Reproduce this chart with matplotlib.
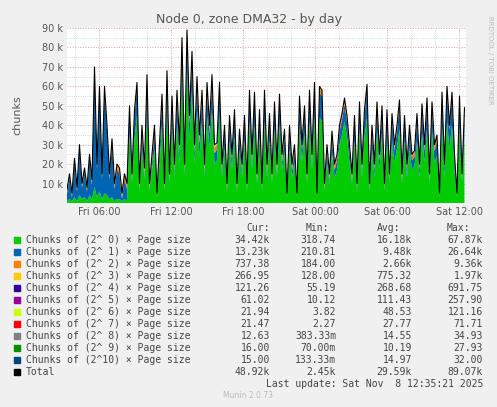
import numpy as np
import matplotlib.pyplot as plt
import matplotlib.dates as mdates
from datetime import datetime, timedelta

# total chunks (k), one point every 12.5 minutes from Fri 03:20
total = [7, 15, 5, 23, 8, 30, 10, 18, 8, 25, 12, 70, 20, 60, 15, 60, 40, 15, 33, 10,
         20, 18, 5, 15, 10, 50, 15, 48, 62, 10, 40, 18, 66, 10, 25, 40, 5, 30, 56, 10,
         68, 15, 55, 20, 58, 30, 85, 20, 89, 45, 78, 30, 65, 35, 58, 20, 62, 40, 66, 30,
         31, 62, 20, 40, 10, 45, 25, 48, 10, 38, 20, 45, 10, 58, 25, 57, 15, 48, 10, 58,
         20, 46, 15, 52, 20, 56, 25, 38, 5, 40, 20, 30, 5, 55, 30, 50, 15, 58, 25, 62,
         5, 60, 58, 10, 30, 15, 37, 20, 25, 40, 46, 54, 45, 30, 15, 45, 10, 52, 20, 48,
         61, 10, 40, 20, 52, 25, 50, 10, 48, 15, 46, 30, 40, 53, 15, 45, 20, 40, 25, 27,
         46, 20, 51, 30, 54, 15, 52, 30, 35, 5, 57, 20, 60, 40, 57, 25, 5, 55, 15, 49]
# 2^0 chunks (k)
green = [1, 2, 1, 3, 1, 4, 2, 3, 1, 4, 2, 8, 3, 6, 2, 5, 4, 2, 3, 1, 2, 2, 1, 2, 1,
         35, 10, 33, 45, 6, 28, 12, 48, 6, 17, 28, 3, 20, 40, 6, 50, 10, 40, 13, 42,
         20, 68, 13, 70, 32, 58, 20, 48, 24, 42, 13, 45, 28, 48, 20, 22, 45, 13, 28, 6,
         32, 17, 34, 6, 27, 13, 32, 6, 42, 17, 40, 10, 34, 6, 42, 13, 32, 10, 38, 13,
         40, 17, 27, 3, 28, 13, 21, 3, 40, 21, 36, 10, 42, 17, 45, 3, 44, 42, 6, 21,
         10, 26, 13, 17, 30, 35, 42, 34, 21, 10, 32, 6, 38, 13, 34, 44, 6, 28, 13, 38,
         17, 36, 6, 34, 10, 32, 21, 28, 38, 10, 32, 13, 28, 17, 19, 32, 13, 36, 21, 38,
         10, 37, 21, 24, 3, 40, 13, 42, 28, 40, 17, 3, 39, 10, 34]
# coarse levels per block of 10 points (k)
orange_blocks = [1.5, 2, 2, 3, 3, 3, 2.5, 2.5, 3, 2.5, 2.5, 2.5, 2.5, 2.5, 2.5, 2]
yellow_blocks = [0.5, 0.7, 0.8, 1.2, 1.0, 1.5, 0.8, 0.7, 0.9, 0.8, 0.7, 0.6, 0.7, 0.6, 0.7, 0.5]

names = ["Chunks of (2^ %d) × Page size" % i for i in range(10)] + ["Chunks of (2^10) × Page size", "Total"]
colors = ['#00CC00', '#0066B3', '#FF8000', '#FFCC00', '#330099', '#990099',
          '#CCFF00', '#FF0000', '#808080', '#008F00', '#00487D', '#000000']
cur = ['34.42k', '13.23k', '737.38', '266.95', '121.26', '61.02', '21.94', '21.47', '12.63', '16.00', '15.00', '48.92k']
mins = ['318.74', '210.81', '184.00', '128.00', '55.19', '10.12', '3.82', '2.27', '383.33m', '70.00m', '133.33m', '2.45k']
avgs = ['16.18k', '9.48k', '2.66k', '775.32', '268.68', '111.43', '48.53', '27.77', '14.55', '10.19', '14.97', '29.59k']
maxs = ['67.87k', '26.64k', '9.36k', '1.97k', '691.75', '257.90', '121.16', '71.71', '34.93', '27.93', '32.00', '89.07k']

tot = np.array(total, float) * 1000
n = len(tot)
g = np.array((green + [green[-1]] * n)[:n], float) * 1000
t0 = datetime(2025, 11, 7, 3, 20)
times = [t0 + timedelta(minutes=12.5 * i) for i in range(n)]

g = np.minimum(g, tot)
room = tot - g
orange = np.minimum(np.repeat(np.array(orange_blocks) * 1000, 10)[:n], room * 0.5)
yellow = np.minimum(np.repeat(np.array(yellow_blocks) * 1000, 10)[:n], room * 0.2)
blue = np.maximum(tot - g - orange - yellow, 0)  # rest of the total

fig = plt.figure(figsize=(4.97, 4.07), dpi=100, facecolor='#F0F0F0')
ax = fig.add_axes([67 / 497, 204 / 407, 399 / 497, 175 / 407])
ax.set_facecolor('white')
ax.stackplot(times, g, blue, orange, yellow, colors=colors[:4], linewidth=0)
ax.plot(times, tot, color='black', lw=0.8)

ax.set_xlim(times[0], t0 + timedelta(hours=33.25))
ax.set_ylim(0, 90000)
ax.set_yticks(np.arange(10000, 90001, 10000))
ax.set_yticklabels(['%d k' % v for v in range(10, 91, 10)])
ax.set_yticks(np.arange(5000, 90000, 10000), minor=True)
ax.xaxis.set_major_locator(mdates.HourLocator(byhour=[0, 6, 12, 18]))
ax.xaxis.set_minor_locator(mdates.HourLocator(interval=2))
ax.xaxis.set_major_formatter(mdates.DateFormatter('%a %H:%M'))
ax.grid(which='major', color='#E8A0A0', ls=':', lw=0.7)
ax.grid(which='minor', color='#C8C8C8', ls=':', lw=0.6)
ax.set_axisbelow(True)
ax.tick_params(which='both', length=0, labelsize=7, colors='#555555', pad=3)
for s in ax.spines.values():
    s.set_visible(False)
ax.set_ylabel('chunks', fontsize=8, color='#555555', labelpad=14)

fig.text(0.5, 1 - 20 / 407, 'Node 0, zone DMA32 - by day', ha='center', va='center', fontsize=9, color='#555555')
fig.text(490 / 497, 1 - 60 / 407, 'RRDTOOL / TOBI OETIKER', rotation=270, ha='center', va='center', fontsize=5, color='#BBBBBB')

mono = 'DejaVu Sans Mono'
fs = 7
def Y(py):
    return 1 - py / 407
for x, h in ((270, 'Cur:'), (329, 'Min:'), (400, 'Avg:'), (470, 'Max:')):
    fig.text(x / 497, Y(228), h, ha='right', va='center', family=mono, fontsize=fs, color='#444444')
for i, name in enumerate(names):
    py = 240 + 12 * i
    fig.patches.append(plt.Rectangle((14 / 497, Y(py + 3)), 6 / 497, 6 / 407, transform=fig.transFigure,
                                     color=colors[i], figure=fig))
    fig.text(26 / 497, Y(py), name, ha='left', va='center', family=mono, fontsize=fs, color='#444444')
    for x, col in ((270, cur), (336, mins), (412, avgs), (483, maxs)):
        fig.text(x / 497, Y(py), col[i], ha='right', va='center', family=mono, fontsize=fs, color='#444444')
fig.text(483 / 497, Y(384), 'Last update: Sat Nov  8 12:35:21 2025', ha='right', va='center',
         family=mono, fontsize=fs, color='#444444')
fig.text(248 / 497, Y(396), 'Munin 2.0.73', ha='center', va='center', fontsize=5.5, color='#BBBBBB')

fig.savefig('out.png', dpi=100, facecolor=fig.get_facecolor())
